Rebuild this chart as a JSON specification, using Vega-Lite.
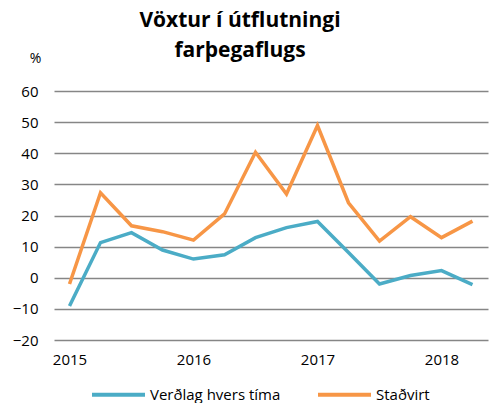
{
  "$schema": "https://vega.github.io/schema/vega-lite/v6.json",
  "autosize": "none",
  "width": 434,
  "height": 249,
  "padding": {"left": 54, "top": 91, "right": 1, "bottom": 63},
  "background": "white",
  "config": {"font": "Open Sans", "view": {"stroke": null}},
  "title": {
    "text": ["Vöxtur í útflutningi", "farþegaflugs"],
    "fontSize": 21,
    "fontWeight": "bold",
    "font": "Open Sans",
    "color": "#000000",
    "anchor": "middle",
    "dx": -31,
    "lineHeight": 30,
    "offset": -10
  },
  "data": {
    "values": [
      {"q": "2015Q1", "s": "Verðlag hvers tíma", "v": -9.1},
      {"q": "2015Q2", "s": "Verðlag hvers tíma", "v": 11.3},
      {"q": "2015Q3", "s": "Verðlag hvers tíma", "v": 14.5},
      {"q": "2015Q4", "s": "Verðlag hvers tíma", "v": 8.9},
      {"q": "2016Q1", "s": "Verðlag hvers tíma", "v": 6.0},
      {"q": "2016Q2", "s": "Verðlag hvers tíma", "v": 7.4},
      {"q": "2016Q3", "s": "Verðlag hvers tíma", "v": 12.9},
      {"q": "2016Q4", "s": "Verðlag hvers tíma", "v": 16.1},
      {"q": "2017Q1", "s": "Verðlag hvers tíma", "v": 18.1},
      {"q": "2017Q2", "s": "Verðlag hvers tíma", "v": 8.1},
      {"q": "2017Q3", "s": "Verðlag hvers tíma", "v": -2.0},
      {"q": "2017Q4", "s": "Verðlag hvers tíma", "v": 0.7},
      {"q": "2018Q1", "s": "Verðlag hvers tíma", "v": 2.3},
      {"q": "2018Q2", "s": "Verðlag hvers tíma", "v": -2.2},
      {"q": "2015Q1", "s": "Staðvirt", "v": -2.0},
      {"q": "2015Q2", "s": "Staðvirt", "v": 27.3},
      {"q": "2015Q3", "s": "Staðvirt", "v": 16.7},
      {"q": "2015Q4", "s": "Staðvirt", "v": 14.8},
      {"q": "2016Q1", "s": "Staðvirt", "v": 12.1},
      {"q": "2016Q2", "s": "Staðvirt", "v": 20.5},
      {"q": "2016Q3", "s": "Staðvirt", "v": 40.3},
      {"q": "2016Q4", "s": "Staðvirt", "v": 26.9},
      {"q": "2017Q1", "s": "Staðvirt", "v": 48.9},
      {"q": "2017Q2", "s": "Staðvirt", "v": 24.1},
      {"q": "2017Q3", "s": "Staðvirt", "v": 11.8},
      {"q": "2017Q4", "s": "Staðvirt", "v": 19.6},
      {"q": "2018Q1", "s": "Staðvirt", "v": 12.9},
      {"q": "2018Q2", "s": "Staðvirt", "v": 18.2}
    ]
  },
  "mark": {"type": "line", "strokeWidth": 3.5, "strokeJoin": "miter"},
  "encoding": {
    "x": {
      "field": "q",
      "type": "ordinal",
      "sort": null,
      "scale": {"type": "point", "padding": 0.5},
      "axis": {
        "title": null,
        "domain": false,
        "ticks": false,
        "grid": false,
        "labelAngle": 0,
        "labelFontSize": 15,
        "labelColor": "#000000",
        "labelPadding": 12,
        "labelExpr": "indexof(datum.value, 'Q1') >= 0 ? slice(datum.value, 0, 4) : ''"
      }
    },
    "y": {
      "field": "v",
      "type": "quantitative",
      "scale": {"domain": [-20, 60], "nice": false, "zero": false},
      "axis": {
        "values": [-20, -10, 0, 10, 20, 30, 40, 50, 60],
        "title": "%",
        "titleAngle": 0,
        "titleX": -19,
        "titleY": -33,
        "titleAlign": "center",
        "titleBaseline": "middle",
        "titleFontWeight": "normal",
        "titleFontSize": 14,
        "titleColor": "#000000",
        "domain": false,
        "ticks": false,
        "grid": true,
        "gridColor": "#868686",
        "gridWidth": 1.5,
        "labelFontSize": 15,
        "labelColor": "#000000",
        "labelPadding": 16
      }
    },
    "color": {
      "field": "s",
      "type": "nominal",
      "scale": {"domain": ["Verðlag hvers tíma", "Staðvirt"], "range": ["#4BACC6", "#F79646"]},
      "legend": {
        "title": null,
        "orient": "none",
        "direction": "horizontal",
        "legendX": 36,
        "legendY": 275,
        "symbolType": "stroke",
        "symbolSize": 2809,
        "symbolStrokeWidth": 4,
        "labelFontSize": 15,
        "labelColor": "#000000",
        "labelOffset": 3,
        "columnPadding": 29
      }
    }
  }
}
